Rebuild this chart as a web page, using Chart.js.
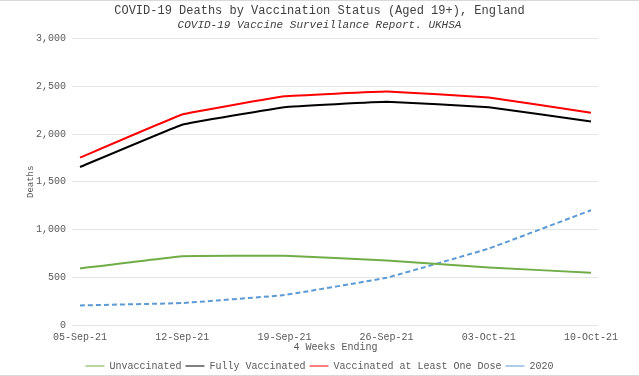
<!DOCTYPE html>
<html>
<head>
<meta charset="utf-8">
<script src="https://cdn.jsdelivr.net/npm/chart.js@4.4.0/dist/chart.umd.min.js"></script>
<style>
  html, body { margin: 0; padding: 0; background: #fff; }
  #wrap { width: 639px; height: 374px; border-top: 1px solid #d9d9d9; border-bottom: 1px solid #d9d9d9; }
</style>
</head>
<body>
<div id="wrap"><canvas id="grafico" width="639" height="374"></canvas></div>
<script>
// Dados
const semanas = ['05-Sep-21', '12-Sep-21', '19-Sep-21', '26-Sep-21', '03-Oct-21', '10-Oct-21'];
const naoVacinados = [593, 721, 725, 676, 603, 547];
const totalmenteVacinados = [1655, 2098, 2282, 2338, 2282, 2132];
const umaDose = [1753, 2205, 2395, 2445, 2383, 2224];
const ano2020 = [205, 230, 314, 495, 801, 1202];

const fonte = '"Liberation Mono", "DejaVu Sans Mono", monospace';
const cinza = '#595959';
const corGrade = '#e6e6e6';

const ctx = document.getElementById('grafico').getContext('2d');
const grafico = new Chart(ctx, {
    type: 'line',
    data: {
        labels: semanas,
        datasets: [
            { label: 'Unvaccinated', data: naoVacinados, borderColor: '#70ad47', backgroundColor: '#70ad47' },
            { label: 'Fully Vaccinated', data: totalmenteVacinados, borderColor: '#000000', backgroundColor: '#000000' },
            { label: 'Vaccinated at Least One Dose', data: umaDose, borderColor: '#ff0000', backgroundColor: '#ff0000' },
            { label: '2020', data: ano2020, borderColor: '#5b9bd5', backgroundColor: '#5b9bd5', borderDash: [5, 3] }
        ]
    },
    options: {
        responsive: false,
        animation: false,
        elements: {
            point: { radius: 0, hoverRadius: 0 },
            line: { borderWidth: 2, tension: 0.06, fill: false }
        },
        layout: { padding: { left: 0, right: 0, top: 0, bottom: -6 } },
        plugins: {
            title: {
                display: true,
                text: 'COVID-19 Deaths by Vaccination Status (Aged 19+), England',
                color: '#404040',
                font: { family: fonte, size: 12, weight: 'normal' },
                padding: { top: 3, bottom: 0 }
            },
            subtitle: {
                display: true,
                text: 'COVID-19 Vaccine Surveillance Report. UKHSA',
                color: '#404040',
                font: { family: fonte, size: 11, style: 'italic' },
                padding: { top: 0, bottom: 7 }
            },
            legend: {
                position: 'bottom',
                labels: {
                    usePointStyle: true,
                    pointStyle: 'line',
                    pointStyleWidth: 19,
                    boxHeight: 10,
                    padding: 4,
                    color: cinza,
                    font: { family: fonte, size: 10 }
                }
            },
            tooltip: { enabled: false }
        },
        scales: {
            y: {
                min: 0,
                max: 3000,
                afterFit: s => { s.width = 80; },
                ticks: {
                    stepSize: 500,
                    padding: 6,
                    color: cinza,
                    font: { family: fonte, size: 10 },
                    callback: v => v.toLocaleString('en-US')
                },
                grid: { color: corGrade, lineWidth: 1, tickLength: 8 },
                border: { display: false },
                title: {
                    display: true,
                    text: 'Deaths',
                    color: cinza,
                    font: { family: fonte, size: 9 },
                    padding: { top: 25, bottom: 0 }
                }
            },
            // eixo vazio à direita: reserva a margem e prolonga a grade
            y1: {
                position: 'right',
                display: true,
                min: 0,
                max: 3000,
                afterFit: s => { s.width = 48; },
                ticks: { display: false, stepSize: 500 },
                grid: { color: corGrade, lineWidth: 1, drawOnChartArea: false, drawTicks: true, tickLength: 7 },
                border: { display: false }
            },
            x: {
                ticks: {
                    color: cinza,
                    font: { family: fonte, size: 10 },
                    maxRotation: 0,
                    padding: 6
                },
                grid: { display: false, drawTicks: false },
                border: { display: false },
                title: {
                    display: true,
                    text: '4 Weeks Ending',
                    color: cinza,
                    font: { family: fonte, size: 10 },
                    padding: { top: -8, bottom: 4 }
                }
            }
        }
    }
});
</script>
</body>
</html>
